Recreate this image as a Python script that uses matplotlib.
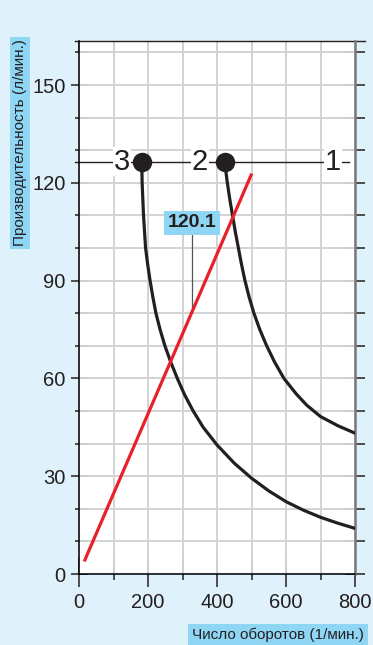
import matplotlib.pyplot as plt
import numpy as np
from matplotlib.ticker import MultipleLocator

# curve 3 (left), curve 2 (right)
curve3_x = [182, 183, 187, 193, 199, 206, 214, 223, 235, 249, 266, 285, 306, 331,
            360, 400, 450, 500, 550, 600, 650, 700, 750, 800]
curve3_y = [126.5, 120, 110, 100, 95, 90, 85, 80, 75, 70, 65, 60, 55, 50,
            45, 39.6, 34.0, 29.4, 25.5, 22.2, 19.6, 17.4, 15.6, 14.0]
curve2_x = [422, 430, 437, 445, 453, 462, 471, 481, 493, 507, 524, 544, 567, 594,
            630, 660, 700, 750, 800]
curve2_y = [126.5, 120, 115, 110, 105, 100, 95, 90, 85, 80, 75, 70, 65, 60,
            55.2, 51.8, 48.3, 45.5, 43.2]

# red line
red_x = [17, 499]
red_y = [4.3, 122.4]

# curve numbers on the top line
labels = ["1", "2", "3"]
label_x = [736, 351, 125]
label_y = 126.5

note_text = "120.1"
note_x = 327
note_y = 107.8

xlabel = "Число оборотов (1/мин.)"
ylabel = "Производительность (л/мин.)"

BG = "#dff1fa"
BOX = "#8fd6f4"
INK = "#231f20"
FONT = ["Liberation Sans", "DejaVu Sans"]


def main():
    plt.rcParams["font.family"] = FONT
    fig = plt.figure(figsize=(3.73, 6.45), dpi=100, facecolor=BG)
    ax = fig.add_axes([79 / 373, 1 - 574 / 645, 276 / 373, 533 / 645])
    ax.set_xlim(0, 800)
    ax.set_ylim(0, 163.5)

    ## Grid and ticks
    ax.xaxis.set_major_locator(MultipleLocator(200))
    ax.xaxis.set_minor_locator(MultipleLocator(100))
    ax.yaxis.set_major_locator(MultipleLocator(30))
    ax.yaxis.set_minor_locator(MultipleLocator(10))
    ax.grid(which="both", color="#d3d3d3", linewidth=1.4)
    ax.set_axisbelow(True)

    ax.tick_params(which="both", direction="out", colors=INK, width=1.1,
                   labelsize=14.5, top=False, right=False)
    ax.tick_params(axis="x", which="major", length=9.4, pad=4)
    ax.tick_params(axis="x", which="minor", length=4.3)
    ax.tick_params(axis="y", which="major", length=5.8, pad=4)
    ax.tick_params(axis="y", which="minor", length=2.9)

    # inner ticks on every side
    sb = ax.secondary_xaxis("bottom")
    sb.set_ticks(np.arange(0, 801, 100))
    sb.tick_params(direction="in", length=12.2, width=1.1, colors=INK, labelbottom=False)
    st = ax.secondary_xaxis("top")
    st.set_ticks(np.arange(0, 801, 100))
    st.tick_params(direction="in", length=8.6, width=1.1, colors="#444444", labeltop=False)
    sl = ax.secondary_yaxis("left")
    sl.set_ticks(np.arange(0, 161, 10))
    sl.tick_params(direction="in", length=6.5, width=1.1, colors=INK, labelleft=False)
    sr = ax.secondary_yaxis("right")
    sr.set_ticks(np.arange(0, 161, 10))
    sr.tick_params(direction="inout", length=13.7, width=1.1, colors=INK, labelright=False)
    for s in (sb, st, sl, sr):
        for sp in s.spines.values():
            sp.set_visible(False)

    ax.spines["left"].set_linewidth(1.1)
    ax.spines["bottom"].set_linewidth(1.1)
    ax.spines["right"].set_color("#7a7a7a")
    ax.spines["right"].set_linewidth(1.8)
    ax.spines["top"].set_visible(False)
    ax.plot([-0.015, 1.036], [1, 1], transform=ax.transAxes, color=INK,
            linewidth=1, clip_on=False)

    ## Curves
    ax.plot(curve3_x, curve3_y, color=INK, linewidth=2.3, zorder=3)
    ax.plot(curve2_x, curve2_y, color=INK, linewidth=2.3, zorder=3)
    ax.plot(curve3_x[0], curve3_y[0], "o", color=INK, markersize=13, zorder=4)
    ax.plot(curve2_x[0], curve2_y[0], "o", color=INK, markersize=13, zorder=4)
    ax.plot(red_x, red_y, color="#e8202a", linewidth=2.3, zorder=4)

    ## Numbered line
    ax.plot([-12, 782], [label_y, label_y], color=INK, linewidth=1, clip_on=False, zorder=2)
    for t, x in zip(labels, label_x):
        ax.text(x, label_y, t, fontsize=21, ha="center", va="center", color=INK,
                bbox=dict(fc="white", ec="none", pad=0.5), zorder=3)

    ## Annotation
    ax.plot([note_x, note_x], [np.interp(note_x, red_x, red_y), note_y],
            color="#555555", linewidth=0.9, zorder=2)
    ax.text(note_x, note_y, note_text, fontsize=14, fontweight="bold", ha="center",
            va="center", color=INK, bbox=dict(fc=BOX, ec="none", pad=2.5), zorder=5)

    ## Axis titles
    fig.text(20 / 373, 1 - 143 / 645, ylabel, rotation=90, ha="center", va="center",
             fontsize=11, color=INK, bbox=dict(fc=BOX, ec="none", pad=2))
    fig.text(364 / 373, 1 - 635 / 645, xlabel, ha="right", va="center",
             fontsize=11, color=INK, bbox=dict(fc=BOX, ec="none", pad=3))

    fig.savefig("out.png", dpi=100, facecolor=BG)


if __name__ == "__main__":
    main()
